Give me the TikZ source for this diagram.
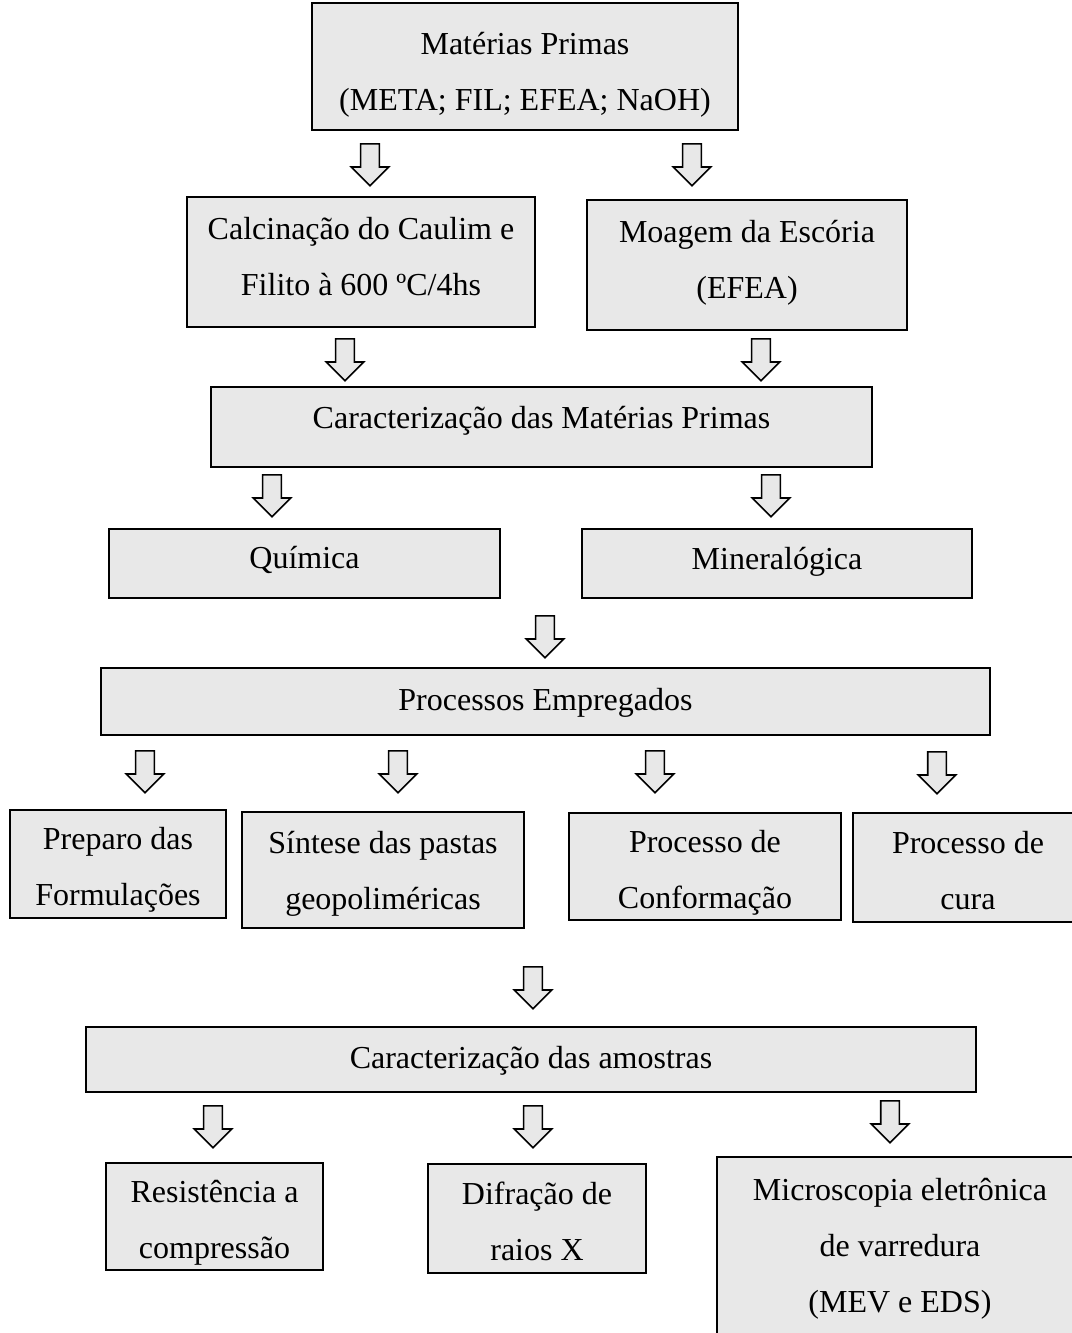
\documentclass[tikz,border=0pt]{standalone}
\usepackage{fontspec}
\setmainfont{Liberation Serif}
\usepackage{tikz}
\usetikzlibrary{shapes, shapes.arrows, positioning}
\usepackage{xcolor}
\definecolor{boxgray}{RGB}{232, 232, 232}

\begin{document}
\begin{tikzpicture}[
  x=0.375pt, y=-0.375pt,
  every node/.style = {font=\fontsize{12}{21}\selectfont},
  box/.style 2 args = {rectangle, draw=black, line width=0.5pt, fill=boxgray,
                   inner sep=0pt,
                   minimum width=#1*0.375pt, minimum height=#2*0.375pt},
  txt/.style    = {align=center, inner sep=0pt},
  dnarr/.style  = {single arrow, draw=black, line width=0.6pt, fill=boxgray,
                   shape border rotate=270, inner sep=3.19pt,
                   single arrow head extend=3.56pt, single arrow tip angle=90,
                   minimum height=15.75pt, anchor=tail}
]
\useasboundingbox (0,0) rectangle (1072,1333);

% raw materials
\node[box={426}{127}] (mp) at (525,66.5) {};
\node[txt] (mp-t) at (525,74.5) {Matérias Primas\\(META; FIL; EFEA; NaOH)};
\node[dnarr] (a1) at (370,143) {};
\node[dnarr] (a2) at (692,143) {};

\node[box={348}{130}] (calc) at (361,262) {};
\node[txt] (calc-t) at (361,257) {Calcinação do Caulim e\\Filito à 600 ºC/4hs};
\node[box={320}{130}] (moag) at (747,265) {};
\node[txt] (moag-t) at (747,262.5) {Moagem da Escória\\(EFEA)};
\node[dnarr] (a3) at (345,338) {};
\node[dnarr] (a4) at (761,338) {};

% characterisation of raw materials
\node[box={661}{80}] (carmp) at (541.5,427) {};
\node[txt] (carmp-t) at (541.5,421) {Caracterização das Matérias Primas};
\node[dnarr] (a5) at (272,474) {};
\node[dnarr] (a6) at (771,474) {};

\node[box={391}{69}] (quim) at (304.5,563.5) {};
\node[txt] (quim-t) at (304.5,559.5) {Química};
\node[box={390}{69}] (mine) at (777,563.5) {};
\node[txt] (mine-t) at (777,561.5) {Mineralógica};
\node[dnarr] (a7) at (545,615) {};

% processes
\node[box={889}{67}] (proc) at (545.5,701.5) {};
\node[txt] (proc-t) at (545.5,702.5) {Processos Empregados};
\node[dnarr] (a8)  at (145,750) {};
\node[dnarr] (a9)  at (398,750) {};
\node[dnarr] (a10) at (655,750) {};
\node[dnarr] (a11) at (937,751) {};

\node[box={216}{108}] (prep) at (118,864) {};
\node[txt] (prep-t) at (118,870) {Preparo das\\Formulações};
\node[box={282}{116}] (sint) at (383,870) {};
\node[txt] (sint-t) at (383,874) {Síntese das pastas\\geopoliméricas};
\node[box={272}{107}] (conf) at (705,866.5) {};
\node[txt] (conf-t) at (705,873) {Processo de\\Conformação};
\node[box={230}{109}] (cura) at (968,867.5) {};
\node[txt] (cura-t) at (968,870.5) {Processo de\\cura};
\node[dnarr] (a12) at (533,966) {};

% characterisation of samples
\node[box={890}{65}] (amos) at (531,1059.5) {};
\node[txt] (amos-t) at (531,1060.5) {Caracterização das amostras};
\node[dnarr] (a13) at (213,1105) {};
\node[dnarr] (a14) at (533,1105) {};
\node[dnarr] (a15) at (890,1100) {};

\node[box={217}{107}] (resi) at (214.5,1216.5) {};
\node[txt] (resi-t) at (214.5,1223) {Resistência a\\compressão};
\node[box={218}{109}] (difr) at (537,1218.5) {};
\node[txt] (difr-t) at (537,1221.5) {Difração de\\raios X};
\node[box={366}{180}] (micr) at (900,1247) {};
\node[txt] (micr-t) at (900,1248.5) {Microscopia eletrônica\\de varredura\\(MEV e EDS)};
\end{tikzpicture}
\end{document}
